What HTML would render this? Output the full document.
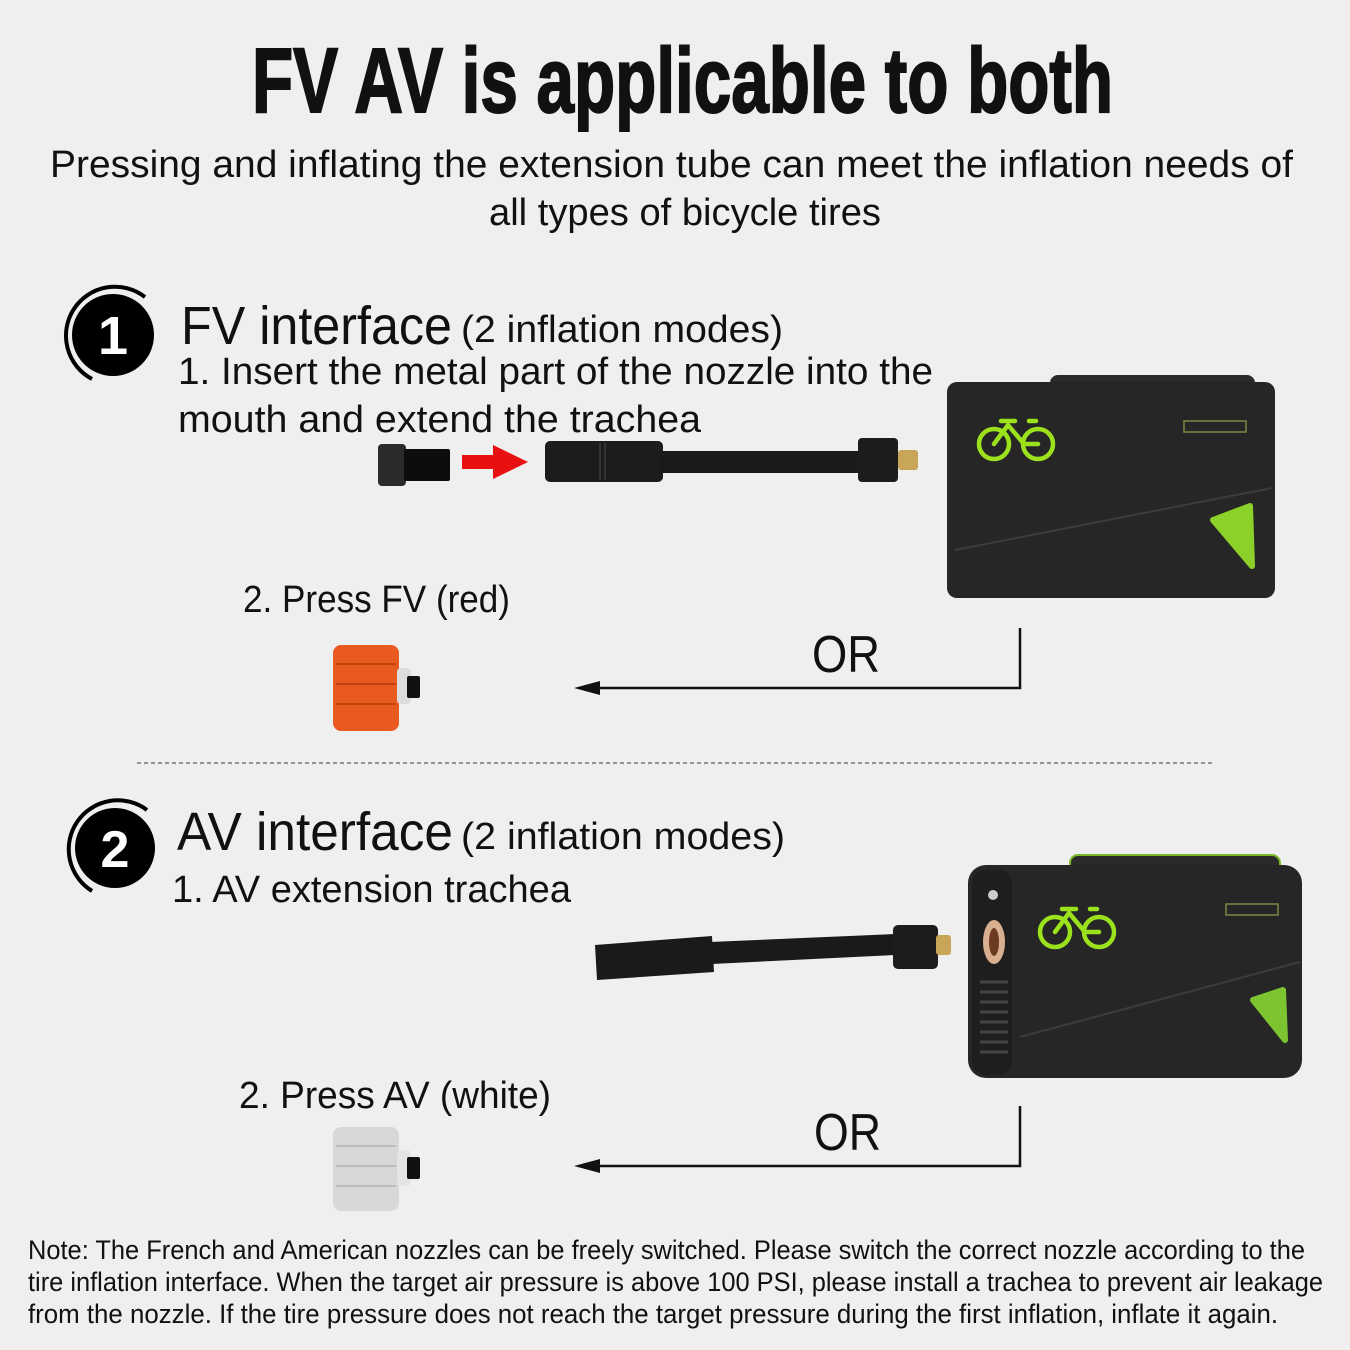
<!DOCTYPE html>
<html><head><meta charset="utf-8"><style>
html,body{margin:0;padding:0;background:#efefef;}
svg{display:block;}
text{font-family:"Liberation Sans",sans-serif;fill:#111;}
</style></head><body>
<svg width="1350" height="1350" viewBox="0 0 1350 1350" xmlns="http://www.w3.org/2000/svg">
<rect width="1350" height="1350" fill="#efefef"/>
<defs>
<g id="bike" fill="none" stroke="#9be21d" stroke-width="4.5" stroke-linecap="round" stroke-linejoin="round">
<circle cx="0" cy="0" r="15"/><circle cx="44" cy="0" r="15"/>
<path d="M0 0 L14 -19 L30 0 L44 0 M7 -23 L21 -23 M35 -23 L42 -23"/>
</g>
</defs>
<text x="252" y="112" font-weight="bold" font-size="92" textLength="861" lengthAdjust="spacingAndGlyphs" stroke="#111" stroke-width="2" style="font-family:'Liberation Sans Narrow','Liberation Sans',sans-serif">FV AV is applicable to both</text>
<text x="50" y="177" font-size="38" textLength="1243" lengthAdjust="spacingAndGlyphs">Pressing and inflating the extension tube can meet the inflation needs of</text>
<text x="489" y="225" font-size="38" textLength="392" lengthAdjust="spacingAndGlyphs">all types of bicycle tires</text>

<!-- section 1 -->
<path d="M145 297 A49 49 0 1 0 92 379" fill="none" stroke="#000" stroke-width="4"/>
<circle cx="113" cy="335" r="41" fill="#000"/>
<text x="113" y="354" font-size="54" font-weight="bold" text-anchor="middle" style="fill:#fff">1</text>
<text x="181" y="344" font-size="54" textLength="271" lengthAdjust="spacingAndGlyphs">FV interface</text>
<text x="461" y="342" font-size="38" textLength="322" lengthAdjust="spacingAndGlyphs">(2 inflation modes)</text>
<text x="178" y="384" font-size="38" textLength="755" lengthAdjust="spacingAndGlyphs">1. Insert the metal part of the nozzle into the</text>
<text x="178" y="432" font-size="38" textLength="523" lengthAdjust="spacingAndGlyphs">mouth and extend the trachea</text>
<rect x="378" y="444" width="28" height="42" rx="4" fill="#2a2a2a"/>
<rect x="404" y="449" width="46" height="32" rx="2" fill="#0d0d0d"/>
<path d="M462 455 H493 V445 L528 462 L493 479 V469 H462 Z" fill="#e81010"/>
<rect x="545" y="441" width="118" height="41" rx="5" fill="#1c1c1c"/>
<path d="M600 443 V480 M605 443 V480" stroke="#333" stroke-width="2"/>
<rect x="660" y="451" width="200" height="22" fill="#1a1a1a"/>
<rect x="858" y="438" width="40" height="44" rx="4" fill="#1c1c1c"/>
<rect x="898" y="450" width="20" height="20" rx="3" fill="#c9a55a"/>
<!-- pump 1 -->
<rect x="1050" y="375" width="205" height="20" rx="8" fill="#2a2a2a"/>
<rect x="947" y="382" width="328" height="216" rx="10" fill="#262626"/>
<path d="M955 550 L1272 488" stroke="#3c3c3c" stroke-width="2"/>
<use href="#bike" x="994" y="444"/>
<rect x="1184" y="421" width="62" height="11" fill="none" stroke="#7a8a40" stroke-width="1.5"/>
<path d="M1213 520 L1250 506 L1252 566 Z" fill="#8cd12a" stroke="#8cd12a" stroke-width="6" stroke-linejoin="round"/>
<text x="243" y="612" font-size="38" textLength="267" lengthAdjust="spacingAndGlyphs">2. Press FV (red)</text>
<rect x="333" y="645" width="66" height="86" rx="8" fill="#e85a20"/>
<path d="M336 664 H396 M336 684 H396 M336 704 H396" stroke="#c2410f" stroke-width="2"/>
<rect x="397" y="668" width="14" height="36" rx="4" fill="#ddd"/>
<rect x="407" y="676" width="13" height="22" rx="2" fill="#111"/>
<text x="812" y="672" font-size="52" textLength="68" lengthAdjust="spacingAndGlyphs">OR</text>
<path d="M1020 628 V688 H590" fill="none" stroke="#111" stroke-width="2.5"/>
<path d="M574 688 L600 681 L600 695 Z" fill="#111"/>

<line x1="137" y1="763" x2="1215" y2="763" stroke="#777" stroke-width="1.5" stroke-dasharray="4 3"/>

<!-- section 2 -->
<path d="M147 810 A49 49 0 1 0 92 891" fill="none" stroke="#000" stroke-width="4"/>
<circle cx="115" cy="848" r="40" fill="#000"/>
<text x="115" y="867" font-size="52" font-weight="bold" text-anchor="middle" style="fill:#fff">2</text>
<text x="177" y="850" font-size="54" textLength="276" lengthAdjust="spacingAndGlyphs">AV interface</text>
<text x="461" y="849" font-size="38" textLength="324" lengthAdjust="spacingAndGlyphs">(2 inflation modes)</text>
<text x="172" y="902" font-size="38" textLength="399" lengthAdjust="spacingAndGlyphs">1. AV extension trachea</text>
<path d="M595 945 L712 936 L714 972 L597 980 Z" fill="#1a1a1a"/>
<path d="M710 942 L895 934 L895 955 L712 964 Z" fill="#1a1a1a"/>
<rect x="893" y="925" width="45" height="44" rx="5" fill="#1c1c1c"/>
<rect x="936" y="935" width="15" height="20" rx="3" fill="#c9a55a"/>
<!-- pump 2 -->
<rect x="1070" y="855" width="210" height="22" rx="8" fill="#2a2a2a" stroke="#7bb82a" stroke-width="2"/>
<rect x="968" y="865" width="334" height="213" rx="18" fill="#262626"/>
<rect x="972" y="870" width="40" height="205" rx="14" fill="#1e1e1e"/>
<circle cx="993" cy="895" r="5" fill="#ccc"/>
<ellipse cx="994" cy="942" rx="11" ry="22" fill="#d8b090"/>
<ellipse cx="994" cy="942" rx="5" ry="14" fill="#6b3a20"/>
<g stroke="#444" stroke-width="3">
<path d="M980 982 H1008 M980 992 H1008 M980 1002 H1008 M980 1012 H1008 M980 1022 H1008 M980 1032 H1008 M980 1042 H1008 M980 1052 H1008"/>
</g>
<path d="M1020 1037 L1300 962" stroke="#3c3c3c" stroke-width="2"/>
<use href="#bike" x="1055" y="932"/>
<rect x="1226" y="904" width="52" height="11" fill="none" stroke="#7a8a40" stroke-width="1.5"/>
<path d="M1253 1000 L1283 990 L1285 1040 Z" fill="#7cc530" stroke="#7cc530" stroke-width="6" stroke-linejoin="round"/>
<text x="239" y="1108" font-size="38" textLength="312" lengthAdjust="spacingAndGlyphs">2. Press AV (white)</text>
<rect x="333" y="1127" width="66" height="84" rx="8" fill="#d8d8d8"/>
<path d="M336 1146 H396 M336 1166 H396 M336 1186 H396" stroke="#bbb" stroke-width="2"/>
<rect x="397" y="1150" width="14" height="36" rx="4" fill="#e4e4e4"/>
<rect x="407" y="1157" width="13" height="22" rx="2" fill="#111"/>
<text x="814" y="1150" font-size="52" textLength="67" lengthAdjust="spacingAndGlyphs">OR</text>
<path d="M1020 1106 V1166 H590" fill="none" stroke="#111" stroke-width="2.5"/>
<path d="M574 1166 L600 1159 L600 1173 Z" fill="#111"/>

<text x="28" y="1259" font-size="27" textLength="1277" lengthAdjust="spacingAndGlyphs">Note: The French and American nozzles can be freely switched. Please switch the correct nozzle according to the</text>
<text x="28" y="1291" font-size="27" textLength="1295" lengthAdjust="spacingAndGlyphs">tire inflation interface. When the target air pressure is above 100 PSI, please install a trachea to prevent air leakage</text>
<text x="28" y="1323" font-size="27" textLength="1250" lengthAdjust="spacingAndGlyphs">from the nozzle. If the tire pressure does not reach the target pressure during the first inflation, inflate it again.</text>
</svg>
</body></html>
